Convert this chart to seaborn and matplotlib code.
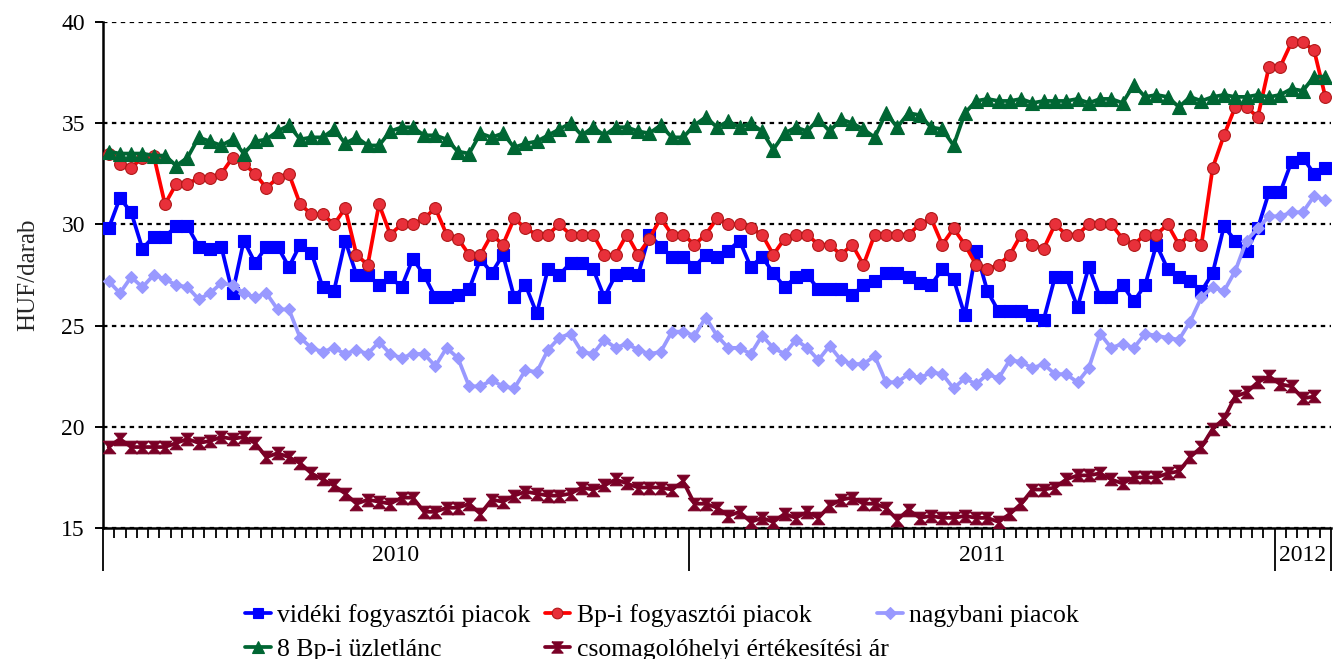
import numpy as np
import pandas as pd
import matplotlib
matplotlib.use("Agg")
import matplotlib.pyplot as plt
import seaborn as sns
from matplotlib.transforms import blended_transform_factory

# ---------------- data ----------------
years = ["2010", "2011", "2012"]
weeks_per_year = [52, 52, 5]

videki = [29.8, 31.3, 30.6, 28.8, 29.4, 29.4, 29.9, 29.9, 28.9, 28.8, 28.9, 26.6, 29.2, 28.1, 28.9,
          28.9, 27.9, 29.0, 28.6, 26.9, 26.7, 29.2, 27.5, 27.5, 27.0, 27.4, 26.9, 28.3, 27.5,
          26.4, 26.4, 26.5, 26.8, 28.3, 27.6, 28.5, 26.4, 27.0, 25.6, 27.8, 27.5, 28.1, 28.1,
          27.8, 26.4, 27.5, 27.6, 27.5, 29.5, 28.9, 28.4, 28.4, 27.9, 28.5, 28.4, 28.7,
          29.2, 27.9, 28.4, 27.6, 26.9, 27.4, 27.5, 26.8, 26.8, 26.8, 26.5, 27.0, 27.2, 27.6,
          27.6, 27.4, 27.1, 27.0, 27.8, 27.3, 25.5, 28.7, 26.7, 25.7, 25.7, 25.7, 25.5,
          25.3, 27.4, 27.4, 25.9, 27.9, 26.4, 26.4, 27.0, 26.2, 27.0, 29.0, 27.8, 27.4, 27.2,
          26.7, 27.6, 29.9, 29.2, 28.7, 29.8, 31.6, 31.6, 33.1, 33.3, 32.5, 32.8]

bp_fogyasztoi = [33.5, 33.0, 32.8, 33.3, 33.4, 31.0, 32.0, 32.0, 32.3, 32.3, 32.5, 33.3, 33.0, 32.5,
                 31.8, 32.3, 32.5, 31.0, 30.5, 30.5, 30.0, 30.8, 28.5, 28.0, 31.0, 29.5, 30.0, 30.0, 30.3,
                 30.8, 29.5, 29.3, 28.5, 28.5, 29.5, 29.0, 30.3, 29.8, 29.5, 29.5, 30.0, 29.5, 29.5,
                 29.5, 28.5, 28.5, 29.5, 28.5, 29.3, 30.3, 29.5, 29.5, 29.0, 29.5, 30.3, 30.0,
                 30.0, 29.8, 29.5, 28.5, 29.3, 29.5, 29.5, 29.0, 29.0, 28.5, 29.0, 28.0, 29.5, 29.5,
                 29.5, 29.5, 30.0, 30.3, 29.0, 29.8, 29.0, 28.0, 27.8, 28.0, 28.5, 29.5, 29.0,
                 28.8, 30.0, 29.5, 29.5, 30.0, 30.0, 30.0, 29.3, 29.0, 29.5, 29.5, 30.0, 29.0, 29.5,
                 29.0, 32.8, 34.4, 35.8, 35.8, 35.3, 37.8, 37.8, 39.0, 39.0, 38.6, 36.3]

nagybani = [27.2, 26.6, 27.4, 26.9, 27.5, 27.3, 27.0, 26.9, 26.3, 26.6, 27.1, 27.0, 26.6, 26.4, 26.6,
            25.8, 25.8, 24.4, 23.9, 23.7, 23.9, 23.6, 23.8, 23.6, 24.2, 23.6, 23.4, 23.6, 23.6,
            23.0, 23.9, 23.4, 22.0, 22.0, 22.3, 22.0, 21.9, 22.8, 22.7, 23.8, 24.4, 24.6, 23.7,
            23.6, 24.3, 23.9, 24.1, 23.8, 23.6, 23.7, 24.7, 24.7, 24.5, 25.4, 24.5, 23.9,
            23.9, 23.6, 24.5, 23.9, 23.6, 24.3, 23.9, 23.3, 24.0, 23.3, 23.1, 23.1, 23.5, 22.2,
            22.2, 22.6, 22.4, 22.7, 22.6, 21.9, 22.4, 22.1, 22.6, 22.4, 23.3, 23.2, 22.9,
            23.1, 22.6, 22.6, 22.2, 22.9, 24.6, 23.9, 24.1, 23.9, 24.6, 24.5, 24.4, 24.3, 25.2,
            26.4, 26.9, 26.7, 27.7, 29.2, 29.8, 30.4, 30.4, 30.6, 30.6, 31.4, 31.2]

uzletlanc = [33.6, 33.5, 33.5, 33.5, 33.4, 33.4, 32.9, 33.3, 34.3, 34.1, 33.9, 34.2, 33.5, 34.1, 34.2,
             34.6, 34.9, 34.2, 34.3, 34.3, 34.7, 34.0, 34.3, 33.9, 33.9, 34.6, 34.8, 34.8, 34.4,
             34.4, 34.2, 33.6, 33.5, 34.5, 34.3, 34.5, 33.8, 34.0, 34.1, 34.4, 34.7, 35.0, 34.4,
             34.8, 34.4, 34.8, 34.8, 34.6, 34.5, 34.9, 34.3, 34.3, 34.9, 35.3, 34.8, 35.1,
             34.8, 35.0, 34.6, 33.7, 34.5, 34.8, 34.6, 35.2, 34.6, 35.2, 35.0, 34.7, 34.3, 35.5,
             34.8, 35.5, 35.4, 34.8, 34.7, 33.9, 35.5, 36.1, 36.2, 36.1, 36.1, 36.2, 36.0,
             36.1, 36.1, 36.1, 36.2, 36.0, 36.2, 36.2, 36.0, 36.9, 36.3, 36.4, 36.3, 35.8, 36.3,
             36.1, 36.3, 36.4, 36.3, 36.3, 36.4, 36.3, 36.4, 36.7, 36.6, 37.3, 37.3]

csomagolohelyi = [19.0, 19.4, 19.0, 19.0, 19.0, 19.0, 19.2, 19.4, 19.2, 19.3, 19.5, 19.4, 19.5, 19.2,
                  18.5, 18.7, 18.5, 18.2, 17.7, 17.4, 17.1, 16.7, 16.2, 16.4, 16.3, 16.2, 16.5, 16.5, 15.8,
                  15.8, 16.0, 16.0, 16.2, 15.7, 16.4, 16.3, 16.6, 16.8, 16.7, 16.6, 16.6, 16.7, 17.0,
                  16.9, 17.1, 17.4, 17.2, 17.0, 17.0, 17.0, 16.9, 17.3, 16.2, 16.2, 16.0, 15.6,
                  15.8, 15.3, 15.5, 15.3, 15.7, 15.5, 15.8, 15.5, 16.1, 16.4, 16.5, 16.2, 16.2, 16.0,
                  15.4, 15.9, 15.5, 15.6, 15.5, 15.5, 15.6, 15.5, 15.5, 15.3, 15.7, 16.2, 16.9,
                  16.9, 17.0, 17.4, 17.6, 17.6, 17.7, 17.4, 17.2, 17.5, 17.5, 17.5, 17.7, 17.8, 18.5,
                  19.0, 19.9, 20.4, 21.5, 21.7, 22.2, 22.5, 22.1, 22.0, 21.4, 21.5, np.nan]

series_names = ["vidéki fogyasztói piacok", "Bp-i fogyasztói piacok", "nagybani piacok",
                "8 Bp-i üzletlánc", "csomagolóhelyi értékesítési ár"]
y_ticks = [15, 20, 25, 30, 35, 40]
y_label = "HUF/darab"

# ---------------- style ----------------
sns.set_theme(style="white")
plt.rcParams["font.family"] = ["Liberation Serif", "DejaVu Serif"]
plt.rcParams["text.color"] = "black"

W, H = 1333, 659
fig = plt.figure(figsize=(W / 100, H / 100), dpi=100)
ax = fig.add_axes([103 / W, 1 - 528 / H, (1331 - 103) / W, (528 - 22) / H])

n = sum(weeks_per_year)
week_idx = np.arange(n)
df = pd.DataFrame({"week": week_idx, series_names[0]: videki, series_names[1]: bp_fogyasztoi,
                   series_names[2]: nagybani, series_names[3]: uzletlanc,
                   series_names[4]: csomagolohelyi})

hourglass = [(-1, 1), (1, 1), (0.12, 0), (1, -1), (-1, -1), (-0.12, 0), (-1, 1)]
styles = [
    dict(color="#0000FF", marker="s", markersize=8.5, markerfacecolor="#0000FF", markeredgecolor="#0000FF"),
    dict(color="#FF0000", marker="o", markersize=8.5, markerfacecolor="#E8303A", markeredgecolor="#B01818"),
    dict(color="#9999FF", marker="D", markersize=6.5, markerfacecolor="#9999FF", markeredgecolor="#9999FF"),
    dict(color="#006633", marker="^", markersize=9.5, markerfacecolor="#006633", markeredgecolor="#006633"),
    dict(color="#7A0026", marker=hourglass, markersize=9, markerfacecolor="#7A0026", markeredgecolor="#7A0026"),
]

for name, st in zip(series_names, styles):
    sub = df[["week", name]].dropna()
    sns.lineplot(data=sub, x="week", y=name, ax=ax, linewidth=2.7, label=name,
                 markeredgewidth=0.8, zorder=3, **st)

ax.set_xlim(-0.5, n - 0.5)
ax.set_ylim(15, 40)
ax.set_xlabel("")
ax.set_ylabel(y_label, fontsize=18, labelpad=16)

# grid
ax.set_yticks(y_ticks)
ax.yaxis.grid(True, linestyle=(0, (2, 2)), color="black", linewidth=1.6)
ax.xaxis.grid(False)
ax.set_axisbelow(True)

# spines
for s in ["top", "right"]:
    ax.spines[s].set_visible(False)
for s in ["left", "bottom"]:
    ax.spines[s].set_color("black")
    ax.spines[s].set_linewidth(1.8)

ax.tick_params(axis="y", which="major", direction="out", length=6, width=1.4,
               labelsize=17, colors="black", pad=7, left=True)

# x axis: week ticks between categories, long year separators
bounds = np.concatenate([[-0.5], np.cumsum(weeks_per_year) - 0.5])
ax.set_xticks(bounds)
ax.set_xticklabels([""] * len(bounds))
ax.set_xticks(np.arange(-0.5, n, 1.0), minor=True)
ax.tick_params(axis="x", which="major", direction="out", length=31, width=1.3, colors="black", bottom=True)
ax.tick_params(axis="x", which="minor", direction="out", length=7.5, width=1.3, colors="black", bottom=True)

trans = blended_transform_factory(ax.transData, ax.transAxes)
for yr, a, b in zip(years, bounds[:-1], bounds[1:]):
    ax.text((a + b) / 2, -0.055, yr, transform=trans, ha="center", va="center", fontsize=17)

# legend (row-major layout as in reference)
handles, labels = ax.get_legend_handles_labels()
if ax.get_legend():
    ax.get_legend().remove()
leg_kw = dict(loc="upper left", frameon=False, fontsize=18.5, handlelength=1.0,
              handletextpad=0.25, labelspacing=0.42, borderaxespad=0, borderpad=0,
              markerscale=0.9)
order = [0, 3, 1, 4]
fig.legend([handles[i] for i in order], [labels[i] for i in order], ncol=2,
           columnspacing=0.55, bbox_to_anchor=(245 / W, 1 - 604 / H), **leg_kw)
fig.legend([handles[2]], [labels[2]], bbox_to_anchor=(877 / W, 1 - 604 / H), **leg_kw)

fig.savefig("out.png", dpi=100)
